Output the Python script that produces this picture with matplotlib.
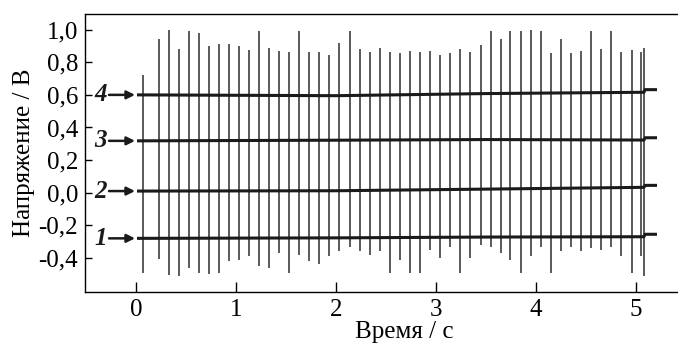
import matplotlib
matplotlib.use("Agg")
import matplotlib.pyplot as plt
from matplotlib.ticker import FixedLocator, FixedFormatter

# ---- data ----
spike_t = [0.07, 0.23, 0.33, 0.43, 0.53, 0.63, 0.73, 0.83, 0.93, 1.03,
           1.13, 1.23, 1.33, 1.43, 1.53, 1.63, 1.73, 1.83, 1.93, 2.03,
           2.14, 2.24, 2.34, 2.44, 2.54, 2.64, 2.74, 2.84, 2.94, 3.04,
           3.14, 3.24, 3.34, 3.45, 3.55, 3.65, 3.74, 3.85, 3.95, 4.05,
           4.15, 4.25, 4.35, 4.45, 4.55, 4.65, 4.75, 4.85, 4.96, 5.05, 5.08]
spike_top = [0.72, 0.94, 1.00, 0.88, 0.99, 0.98, 0.90, 0.91, 0.91, 0.90,
             0.875, 0.99, 0.886, 0.87, 0.86, 0.99, 0.865, 0.86, 0.845, 0.92,
             0.99, 0.88, 0.86, 0.89, 0.86, 0.855, 0.87, 0.86, 0.87, 0.845,
             0.855, 0.88, 0.86, 0.905, 0.99, 0.94, 0.99, 0.99, 1.00, 0.99,
             0.855, 0.94, 0.855, 0.87, 0.99, 0.88, 0.99, 0.86, 0.875, 0.86, 0.89]
spike_bottom = [-0.495, -0.407, -0.505, -0.51, -0.464, -0.495, -0.50, -0.49, -0.42, -0.413,
                -0.39, -0.45, -0.46, -0.37, -0.495, -0.38, -0.42, -0.44, -0.39, -0.36,
                -0.33, -0.36, -0.38, -0.36, -0.495, -0.41, -0.495, -0.495, -0.35, -0.40,
                -0.33, -0.495, -0.40, -0.32, -0.33, -0.37, -0.41, -0.495, -0.39, -0.33,
                -0.495, -0.36, -0.33, -0.36, -0.34, -0.35, -0.33, -0.39, -0.49, -0.39, -0.51]

base_t = [0.01, 2.0, 3.5, 5.08, 5.09, 5.21]
baselines = {
    "4": [0.600, 0.595, 0.608, 0.616, 0.632, 0.632],
    "3": [0.318, 0.322, 0.326, 0.323, 0.337, 0.337],
    "2": [0.010, 0.012, 0.022, 0.033, 0.045, 0.045],
    "1": [-0.280, -0.277, -0.272, -0.270, -0.255, -0.255],
}

xticks = [0, 1, 2, 3, 4, 5]
xticklabels = ["0", "1", "2", "3", "4", "5"]
yticks = [1.0, 0.8, 0.6, 0.4, 0.2, 0.0, -0.2, -0.4]
yticklabels = ["1,0", "0,8", "0,6", "0,4", "0,2", "0,0", "-0,2", "-0,4"]

plt.rcParams["font.family"] = ["Liberation Serif", "DejaVu Serif"]

fig = plt.figure(figsize=(6.78, 3.48), dpi=100)
ax = fig.add_axes([85 / 678, 56 / 348, 1 - 85 / 678, 278 / 348])

ax.vlines(spike_t, spike_bottom, spike_top, colors="#2e2e2e", linewidth=1.1)
for name, vals in baselines.items():
    ax.plot(base_t, vals, color="#1a1a1a", linewidth=2.2, solid_capstyle="butt")
    ax.annotate("", xy=(-0.01, vals[0]), xytext=(-0.27, vals[0]),
                arrowprops=dict(arrowstyle="-|>", color="#1a1a1a", lw=1.8,
                                mutation_scale=12, shrinkA=0, shrinkB=0))
    ax.text(-0.29, vals[0], name, ha="right", va="center", fontsize=18,
            fontstyle="italic", fontweight="bold", color="#1a1a1a")

ax.set_xlim(-0.51, 5.42)
ax.set_ylim(-0.609, 1.096)

ax.xaxis.set_major_locator(FixedLocator(xticks))
ax.xaxis.set_major_formatter(FixedFormatter(xticklabels))
ax.yaxis.set_major_locator(FixedLocator(yticks))
ax.yaxis.set_major_formatter(FixedFormatter(yticklabels))

ax.tick_params(axis="x", direction="in", length=7, width=1, pad=5, labelsize=18)
ax.tick_params(axis="y", direction="in", length=5, width=1, pad=5, labelsize=18)
for s in ["left", "top", "bottom"]:
    ax.spines[s].set_linewidth(1.0)
ax.spines["right"].set_visible(False)

ax.set_xlabel("Время / с", fontsize=18, labelpad=0)
ax.xaxis.set_label_coords(0.538, -0.105)
ax.set_ylabel("Напряжение / В", fontsize=18)
ax.yaxis.set_label_coords(-0.084, 0.5)

fig.savefig("out.png", dpi=100)
